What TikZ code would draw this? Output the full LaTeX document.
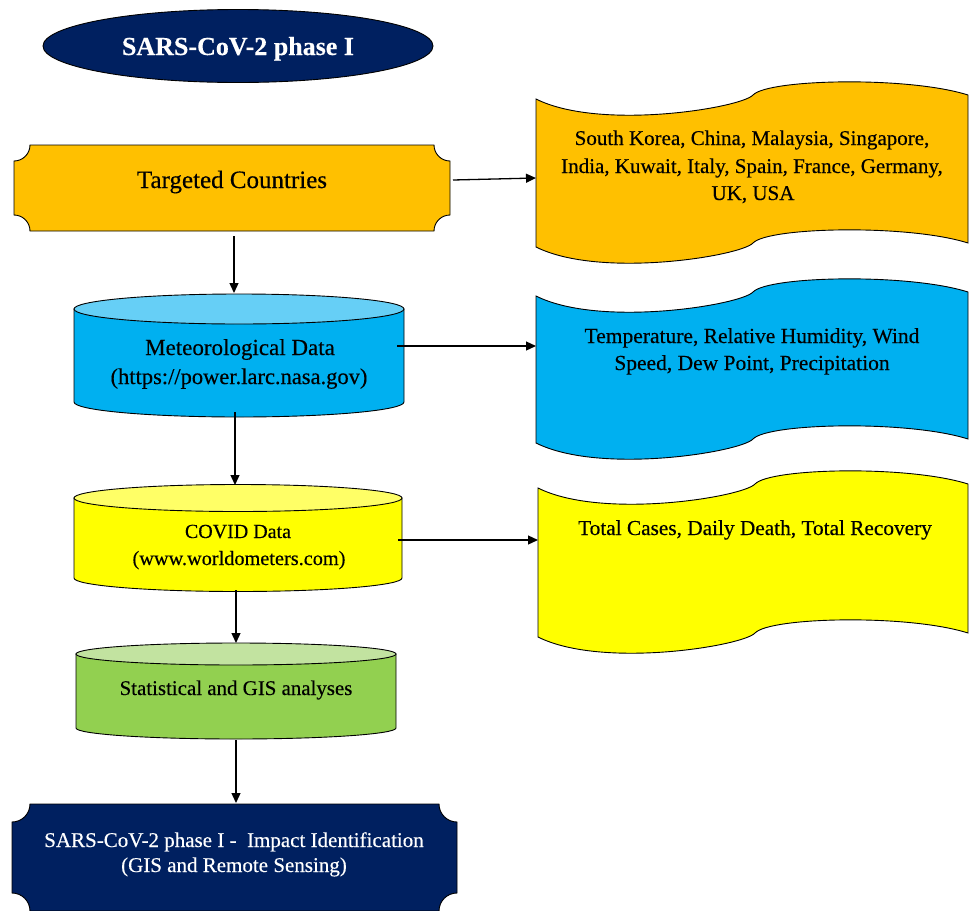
\documentclass[tikz,border=0pt]{standalone}
\usepackage{fontspec}
\setmainfont{Liberation Serif}[FakeBold=0.35]
\usetikzlibrary{arrows.meta}
\definecolor{navy}{HTML}{002060}
\definecolor{gold}{HTML}{FFC000}
\definecolor{skyb}{HTML}{00B0F0}
\definecolor{skyt}{HTML}{66CFF6}
\definecolor{yelb}{HTML}{FFFF00}
\definecolor{yelt}{HTML}{FFFF66}
\definecolor{grnb}{HTML}{92D050}
\definecolor{grnt}{HTML}{C2E3A0}
\tikzset{
  outline/.style={draw=black, line width=0.9pt},
  arr/.style={-{Triangle[length=10pt,width=9pt]}, line width=1.3pt},
  lbl/.style={inner sep=0pt, anchor=base, text=black},
}
% plaque with concave corners: L T R B r style
\newcommand\plaqueshape[6]{%
  \filldraw[#6] (#1,{#2+#5}) .. controls ({#1+0.552*#5},{#2+#5}) and ({#1+#5},{#2+0.552*#5}) .. ({#1+#5},#2)
   -- ({#3-#5},#2) .. controls ({#3-#5},{#2+0.552*#5}) and ({#3-0.552*#5},{#2+#5}) .. (#3,{#2+#5})
   -- (#3,{#4-#5}) .. controls ({#3-0.552*#5},{#4-#5}) and ({#3-#5},{#4-0.552*#5}) .. ({#3-#5},#4)
   -- ({#1+#5},#4) .. controls ({#1+#5},{#4-0.552*#5}) and ({#1+0.552*#5},{#4-#5}) .. (#1,{#4-#5}) -- cycle;}
% wave banner: L R T H style   (T = y of top-left corner)
\newcommand\wavebanner[5]{%
  \filldraw[#5] (#1,#3)
     .. controls ({#1+64},{#3+32}) and ({#1+205},{#3+9}) .. ({#1+217},{#3-4})
     .. controls ({#1+232},{#3-20}) and ({#2-60},{#3-23}) .. (#2,{#3-4})
   -- (#2,{#3-4+#4})
     .. controls ({#2-60},{#3-23+#4}) and ({#1+232},{#3-20+#4}) .. ({#1+217},{#3-4+#4})
     .. controls ({#1+205},{#3+9+#4}) and ({#1+64},{#3+32+#4}) .. (#1,{#3+#4}) -- cycle;}
% cylinder: cx rx ctop cbot ry body top
\newcommand\cylshape[7]{%
  \filldraw[outline, fill=#6] ({#1-#2},#3) -- ({#1-#2},#4) arc[start angle=180, end angle=360, x radius=#2pt, y radius=#5pt] -- ({#1+#2},#3) -- cycle;
  \filldraw[outline, fill=#7] (#1,#3) ellipse[x radius=#2pt, y radius=#5pt];}
\begin{document}
\begin{tikzpicture}[x=1pt,y=-1pt]
\useasboundingbox (0,0) rectangle (970,911);
\begin{scope}
\clip (0,0) rectangle (970,911);
% title
\filldraw[outline, fill=navy] (238,46) ellipse[x radius=195pt, y radius=36.5pt];
\node[lbl, text=white, font=\fontsize{26}{30}\selectfont\bfseries] (title) at (238,55) {SARS-CoV-2 phase I};
% targeted countries
\plaqueshape{14}{145}{450}{231}{16}{outline, fill=gold}
\node[lbl, font=\fontsize{25}{30}\selectfont] (tc) at (232,188) {Targeted Countries};
% banners
\wavebanner{536}{968}{99}{148}{outline, fill=gold}
\node[lbl, font=\fontsize{21}{25}\selectfont] (b1a) at (752,145) {South Korea, China, Malaysia, Singapore,};
\node[lbl, font=\fontsize{21}{25}\selectfont] (b1b) at (752,173) {India, Kuwait, Italy, Spain, France, Germany,};
\node[lbl, font=\fontsize{21}{25}\selectfont] (b1c) at (753,200) {UK, USA};
\wavebanner{536}{968}{296}{147}{outline, fill=skyb}
\node[lbl, font=\fontsize{21.5}{25}\selectfont] (b2a) at (752,343) {Temperature, Relative Humidity, Wind};
\node[lbl, font=\fontsize{21.5}{25}\selectfont] (b2b) at (752,370) {Speed, Dew Point, Precipitation};
\wavebanner{538}{968}{488}{149}{outline, fill=yelb}
\node[lbl, font=\fontsize{21.3}{25}\selectfont] (b3a) at (755,535) {Total Cases, Daily Death, Total Recovery};
% cylinders
\cylshape{239}{165}{309}{402}{15}{skyb}{skyt}
\node[lbl, font=\fontsize{23}{27}\selectfont] (met1) at (240,355) {Meteorological Data};
\node[lbl, font=\fontsize{22.5}{27}\selectfont] (met2) at (239,384) {(https://power.larc.nasa.gov)};
\cylshape{238}{164}{498}{578}{13.5}{yelb}{yelt}
\node[lbl, font=\fontsize{20}{24}\selectfont] (cov1) at (238,538) {COVID Data};
\node[lbl, font=\fontsize{20.3}{24}\selectfont] (cov2) at (239,565) {(www.worldometers.com)};
\cylshape{236}{160}{654}{728}{11}{grnb}{grnt}
\node[lbl, font=\fontsize{20.9}{24}\selectfont] (stat) at (236,695) {Statistical and GIS analyses};
% final
\plaqueshape{12}{804}{457}{911}{18}{outline, fill=navy}
\node[lbl, text=white, font=\fontsize{21}{25}\selectfont] (fin1) at (234,847) {SARS-CoV-2 phase I -\ \ Impact Identification};
\node[lbl, text=white, font=\fontsize{21}{25}\selectfont] (fin2) at (234,872) {(GIS and Remote Sensing)};
\end{scope}
% connector ends
\coordinate (tcS) at (234,236);
\coordinate (tcE) at (453,180);
\coordinate (b1W) at (536,178);
\coordinate (metN) at (234,293);
\coordinate (metE) at (397,346);
\coordinate (b2W) at (536,346);
\coordinate (metS) at (235,412);
\coordinate (covN) at (235,485);
\coordinate (covE) at (398,540);
\coordinate (b3W) at (538,540);
\coordinate (covS) at (236,590);
\coordinate (statN) at (236,643);
\coordinate (statS) at (236,740);
\coordinate (finN) at (236,803);
\draw[arr] (tcS) -- (metN);
\draw[arr] (tcE) -- (b1W);
\draw[arr] (metE) -- (b2W);
\draw[arr] (metS) -- (covN);
\draw[arr] (covE) -- (b3W);
\draw[arr] (covS) -- (statN);
\draw[arr] (statS) -- (finN);
\end{tikzpicture}
\end{document}
